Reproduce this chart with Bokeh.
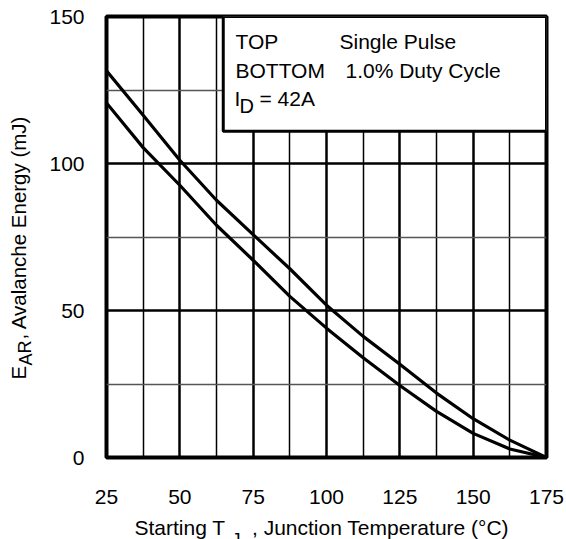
from bokeh.plotting import figure
from bokeh.layouts import row, column
from bokeh.models import Range1d, FixedTicker, Label, BoxAnnotation
from bokeh.embed import file_html
from bokeh.resources import INLINE

# Starting junction temperature (°C)
temps = [25, 37.5, 50, 62.5, 75, 87.5, 100, 112.5, 125, 137.5, 150, 162.5, 175]
# Avalanche energy (mJ)
single_pulse = [131.5, 116.4, 101.1, 87.5, 75.8, 64.2, 51.8, 41.2, 31.7, 21.9, 13.2, 5.9, 0.0]
duty_cycle_1pct = [120.6, 105.4, 92.6, 79.0, 67.1, 54.8, 44.0, 33.9, 24.5, 15.7, 8.2, 2.9, 0.0]

x_ticks = [25, 50, 75, 100, 125, 150, 175]
x_minor = [37.5, 62.5, 87.5, 112.5, 137.5, 162.5]
y_ticks = [0, 50, 100, 150]
y_minor = [25, 75, 125]

FONT = "Liberation Sans"
W, H = 566, 539
LEFT_W = 45          # strip holding the rotated y title
MAIN_H = 517         # chart height; the x title strip takes the rest
FRAME_L, FRAME_T, FRAME_R, FRAME_B = 106, 16, 546, 457
DROP = 7             # baseline drop of Label text, compensated below


def make_label(fig, text, px, py, frame_left, frame_bottom,
               size="21px", align="left", rotated=False):
    """Place a text with its baseline anchor at page pixel (px, py)."""
    if rotated:
        x, y, angle = px - frame_left - DROP, frame_bottom - py, 1.5708
    else:
        x, y, angle = px - frame_left, frame_bottom - py + DROP, 0.0
    fig.add_layout(Label(x=x, y=y, x_units="screen", y_units="screen",
                         text=text, text_font=FONT, text_font_size=size,
                         text_color="black", text_align=align,
                         text_baseline="alphabetic", angle=angle))


def text_strip(width, height):
    f = figure(width=width, height=height, output_backend="svg",
               toolbar_location=None, x_axis_location=None, y_axis_location=None,
               x_range=Range1d(0, 1), y_range=Range1d(0, 1), min_border=0)
    f.outline_line_color = None
    f.grid.visible = False
    f.background_fill_color = "white"
    f.border_fill_color = "white"
    return f


# ---- main chart ----
p = figure(width=W - LEFT_W, height=MAIN_H, output_backend="svg",
           toolbar_location=None,
           x_range=Range1d(25, 175), y_range=Range1d(0, 150),
           min_border_left=FRAME_L - LEFT_W, min_border_right=W - FRAME_R,
           min_border_top=FRAME_T, min_border_bottom=MAIN_H - FRAME_B)
p.background_fill_color = "white"
p.border_fill_color = "white"
p.outline_line_color = "black"
p.outline_line_width = 4

p.xaxis.ticker = FixedTicker(ticks=x_ticks, minor_ticks=x_minor)
p.yaxis.ticker = FixedTicker(ticks=y_ticks, minor_ticks=y_minor)
for ax in (p.xaxis, p.yaxis):
    ax.axis_line_color = None
    ax.major_tick_line_color = None
    ax.minor_tick_line_color = None
    ax.major_tick_out = 0
    ax.major_tick_in = 0
    ax.minor_tick_out = 0
    ax.minor_tick_in = 0
    ax.major_label_text_font = FONT
    ax.major_label_text_font_size = "21px"
    ax.major_label_text_color = "black"
p.xaxis.major_label_standoff = 32
p.yaxis.major_label_standoff = 22

p.xgrid.grid_line_color = "black"
p.xgrid.grid_line_width = 2.5
p.xgrid.minor_grid_line_color = "black"
p.xgrid.minor_grid_line_width = 1.5
p.ygrid.grid_line_color = "black"
p.ygrid.grid_line_width = 2.5
p.ygrid.minor_grid_line_color = "#555555"
p.ygrid.minor_grid_line_width = 1.5

p.line(temps, single_pulse, line_color="black", line_width=3.2)
p.line(temps, duty_cycle_1pct, line_color="black", line_width=3.2)

# legend box in the upper right corner
p.add_layout(BoxAnnotation(left=64.8, right=175, bottom=111.0, top=150,
                           fill_color="white", fill_alpha=1.0,
                           line_color="black", line_width=3, line_alpha=1.0))

for text, px, py, size in [("TOP", 235, 48, "21px"),
                           ("Single Pulse", 339, 48, "21px"),
                           ("BOTTOM", 235, 77, "21px"),
                           ("1.0% Duty Cycle", 345, 77, "21px"),
                           ("I", 234, 105, "21px"),
                           ("D", 239, 112, "20px"),
                           ("= 42A", 259, 105, "21px")]:
    make_label(p, text, px, py, FRAME_L, FRAME_B, size=size)

# ---- x title strip (its frame lines up with the chart frame) ----
xt = text_strip(W - LEFT_W, H - MAIN_H)
make_label(xt, "Starting T", 225, 534, FRAME_L, H, align="right")
make_label(xt, "J", 231, 546, FRAME_L, H, size="18px")
make_label(xt, ", Junction Temperature (°C)", 380, 534, FRAME_L, H, align="center")

# ---- y title strip (left of the chart) ----
yt = text_strip(LEFT_W, H)
make_label(yt, "E", 25, 379, 0, H, size="20.5px", rotated=True)
make_label(yt, "AR", 32, 365, 0, H, size="18px", rotated=True)
make_label(yt, " , Avalanche Energy (mJ)", 25, 339, 0, H, size="20.5px", rotated=True)

layout = row(yt, column(p, xt, spacing=0), spacing=0)
open("out.html", "w").write(file_html(layout, INLINE))
